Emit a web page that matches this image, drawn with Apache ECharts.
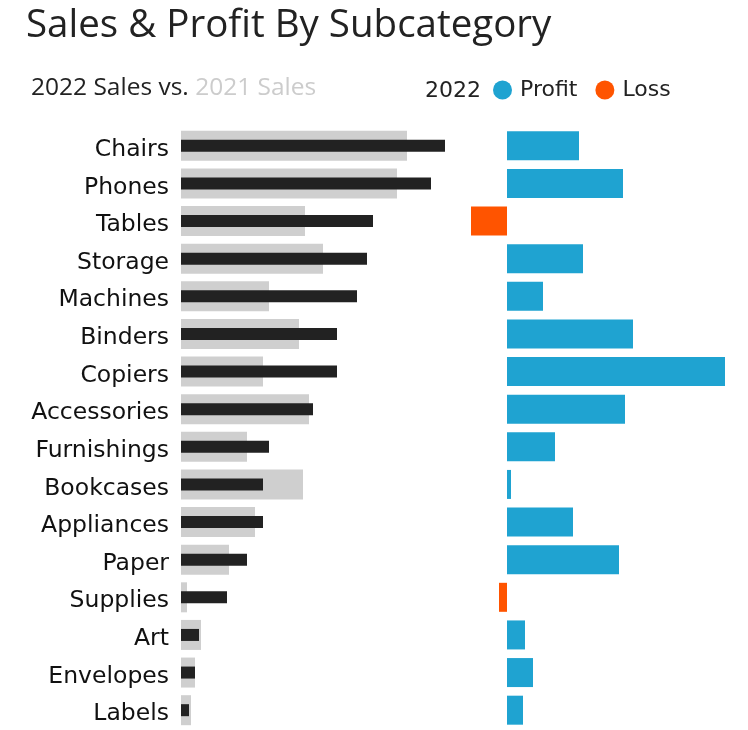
<!DOCTYPE html>
<html>
<head>
<meta charset="utf-8">
<script src="https://cdn.jsdelivr.net/npm/echarts@6/dist/echarts.min.js"></script>
<style>
  html, body { margin: 0; padding: 0; background: #fff; }
  #box { width: 748px; height: 730px; }
</style>
</head>
<body>
<div id="box"></div>
<script>
// subcategories, sorted by 2022 sales
var categories = ["Chairs", "Phones", "Tables", "Storage", "Machines", "Binders", "Copiers", "Accessories",
  "Furnishings", "Bookcases", "Appliances", "Paper", "Supplies", "Art", "Envelopes", "Labels"];
// sales in $K
var sales2022 = [105.6, 100.0, 76.8, 74.4, 70.4, 62.4, 62.4, 52.8, 35.2, 32.8, 32.8, 26.4, 18.4, 7.2, 5.6, 3.2];
var sales2021 = [90.4, 86.4, 49.6, 56.8, 35.2, 47.2, 32.8, 51.2, 26.4, 48.8, 29.6, 19.2, 2.4, 8.0, 5.6, 4.0];
// 2022 profit in $K
var profit2022 = [7.2, 11.6, -3.6, 7.6, 3.6, 12.6, 21.8, 11.8, 4.8, 0.4, 6.6, 11.2, -0.8, 1.8, 2.6, 1.6];

var profitPart = profit2022.map(function (v) { return v >= 0 ? v : "-"; });
var lossPart = profit2022.map(function (v) { return v < 0 ? v : "-"; });

var myChart = echarts.init(document.getElementById("box"));
var option = {
  animation: false,
  title: [
    {
      text: "Sales & Profit By Subcategory",
      left: 21,
      top: 2,
      textStyle: { fontFamily: "Open Sans", fontSize: 38.5, fontWeight: "normal", color: "#222222" }
    },
    {
      text: "{a|2022 Sales vs. }{b|2021 Sales}",
      left: 26,
      top: 71,
      textStyle: {
        rich: {
          a: { fontFamily: "Open Sans", fontSize: 24.5, fontWeight: "normal", color: "#222222" },
          b: { fontFamily: "Open Sans", fontSize: 24.5, fontWeight: "normal", color: "#cccccc" }
        }
      }
    },
    {
      text: "2022",
      left: 420,
      top: 75,
      textStyle: { fontFamily: "DejaVu Sans", fontSize: 22, fontWeight: "normal", color: "#222222" }
    }
  ],
  legend: {
    data: ["Profit", "Loss"],
    left: 493,
    top: 79,
    padding: 0,
    icon: "circle",
    itemWidth: 19,
    itemHeight: 19,
    itemGap: 18,
    textStyle: { fontFamily: "DejaVu Sans", fontSize: 22, color: "#222222", padding: [0, 0, 0, 3] }
  },
  grid: [
    { left: 181, top: 127, width: 300, height: 602 },
    { left: 467, top: 127, width: 280, height: 602 }
  ],
  xAxis: [
    { gridIndex: 0, type: "value", min: 0, max: 120, show: false },
    { gridIndex: 1, type: "value", min: -4, max: 24, show: false },
    { gridIndex: 0, type: "value", min: 0, max: 120, show: false }
  ],
  yAxis: [
    {
      gridIndex: 0,
      type: "category",
      data: categories,
      inverse: true,
      axisLine: { show: false },
      axisTick: { show: false },
      axisLabel: {
        margin: 12,
        formatter: "{a|{value}}",
        rich: {
          a: { padding: [8, 0, 0, 0], fontFamily: "DejaVu Sans", fontSize: 23.5, color: "#111111" }
        }
      }
    },
    {
      gridIndex: 1,
      type: "category",
      data: categories,
      inverse: true,
      show: false
    },
    {
      gridIndex: 0,
      type: "category",
      data: categories,
      inverse: true,
      show: false
    }
  ],
  series: [
    {
      name: "2021 Sales",
      type: "bar",
      xAxisIndex: 0,
      yAxisIndex: 0,
      barWidth: 30,
      itemStyle: { color: "#cfcfcf" },
      data: sales2021
    },
    {
      name: "2022 Sales",
      type: "bar",
      xAxisIndex: 2,
      yAxisIndex: 2,
      barWidth: 12,
      z: 3,
      itemStyle: { color: "#222222" },
      data: sales2022
    },
    {
      name: "Profit",
      type: "bar",
      xAxisIndex: 1,
      yAxisIndex: 1,
      stack: "profit",
      barWidth: 29,
      itemStyle: { color: "#1fa3d1" },
      data: profitPart
    },
    {
      name: "Loss",
      type: "bar",
      xAxisIndex: 1,
      yAxisIndex: 1,
      stack: "profit",
      barWidth: 29,
      itemStyle: { color: "#ff5400" },
      data: lossPart
    }
  ]
};
myChart.setOption(option);
</script>
</body>
</html>
